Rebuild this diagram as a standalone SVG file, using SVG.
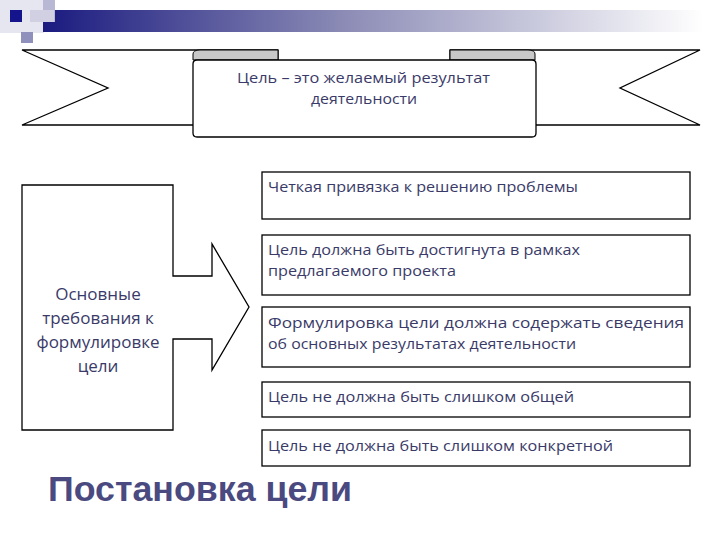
<svg xmlns="http://www.w3.org/2000/svg" width="720" height="540" viewBox="0 0 720 540">
<defs>
<linearGradient id="bar" x1="0" x2="1" y1="0" y2="0">
<stop offset="0" stop-color="#1a1a80"/><stop offset="0.45" stop-color="#8a8ab5"/><stop offset="1" stop-color="#ffffff"/>
</linearGradient>
<style>
.ln{fill:#fff;stroke:#000;stroke-width:1.3}
.t{font-family:"Open Sans","DejaVu Sans",sans-serif;font-size:15px;fill:#3a3a68}
.big{font-size:17px}
.c{text-anchor:middle}
</style>
</defs>
<rect width="720" height="540" fill="#fff"/>
<g id="header">
<rect x="0" y="0" width="44" height="33" fill="#e6e6f0"/>
<rect x="43" y="10" width="660" height="22" fill="url(#bar)"/>
<rect x="43" y="0" width="12" height="22" fill="#b8b8d4"/>
<rect x="30" y="10" width="24" height="12" fill="#d0d0e2"/>
<rect x="10" y="10" width="12" height="12" fill="#14148c"/>
<rect x="21" y="32" width="12" height="11" fill="#9090bc"/>
</g>
<g id="banner">
<path class="ln" d="M200,125 L22,125 L108,88 L22,50 L278,50 L278,62"/>
<path class="ln" d="M528,125 L700,125 L620,88 L700,50 L450,50 L450,62"/>
<path d="M193,54 Q193,50 200,50 L278,50 L278,60 L193,60 Z" fill="#c8c8c8" stroke="#000" stroke-width="1"/>
<path d="M450,50 L528,50 Q535,50 535,54 L535,60 L450,60 Z" fill="#c8c8c8" stroke="#000" stroke-width="1"/>
<path class="ln" d="M197,60 L532,60 Q536,60 536,64 L536,133 Q536,137 532,137 L197,137 Q193,137 193,133 L193,64 Q193,60 197,60 Z"/>
<text class="t" x="237" y="83" textLength="253" lengthAdjust="spacingAndGlyphs">Цель – это желаемый результат</text>
<text class="t" x="311" y="104" textLength="106" lengthAdjust="spacingAndGlyphs">деятельности</text>
</g>
<g id="requirements">
<path class="ln" d="M22,185 L173,185 L173,276 L212,276 L212,244 L249,307 L212,370 L212,339 L173,339 L173,430 L22,430 Z"/>
<text class="t big c" x="98" y="300">Основные</text>
<text class="t big c" x="98" y="324">требования к</text>
<text class="t big c" x="98" y="348">формулировке</text>
<text class="t big c" x="98" y="372">цели</text>
</g>
<g id="item1"><rect class="ln" x="262" y="172" width="428" height="47"/><text class="t" x="268" y="192" textLength="310" lengthAdjust="spacingAndGlyphs">Четкая привязка к решению проблемы</text></g>
<g id="item2"><rect class="ln" x="262" y="235" width="428" height="60"/><text class="t" x="268" y="255" textLength="312" lengthAdjust="spacingAndGlyphs">Цель должна быть достигнута в рамках</text><text class="t" x="268" y="276" textLength="188" lengthAdjust="spacingAndGlyphs">предлагаемого проекта</text></g>
<g id="item3"><rect class="ln" x="262" y="307" width="428" height="60"/><text class="t" x="268" y="328" textLength="416" lengthAdjust="spacingAndGlyphs">Формулировка цели должна содержать сведения</text><text class="t" x="268" y="349" textLength="308" lengthAdjust="spacingAndGlyphs">об основных результатах деятельности</text></g>
<g id="item4"><rect class="ln" x="262" y="382" width="428" height="35"/><text class="t" x="268" y="402" textLength="306" lengthAdjust="spacingAndGlyphs">Цель не должна быть слишком общей</text></g>
<g id="item5"><rect class="ln" x="262" y="430" width="428" height="36"/><text class="t" x="268" y="451" textLength="345" lengthAdjust="spacingAndGlyphs">Цель не должна быть слишком конкретной</text></g>
<g id="connectors"/>
<text x="48" y="501" font-family="'Liberation Sans',Arial,sans-serif" font-size="35" font-weight="bold" fill="#4a4a80" textLength="304" lengthAdjust="spacingAndGlyphs">Постановка цели</text>
</svg>
